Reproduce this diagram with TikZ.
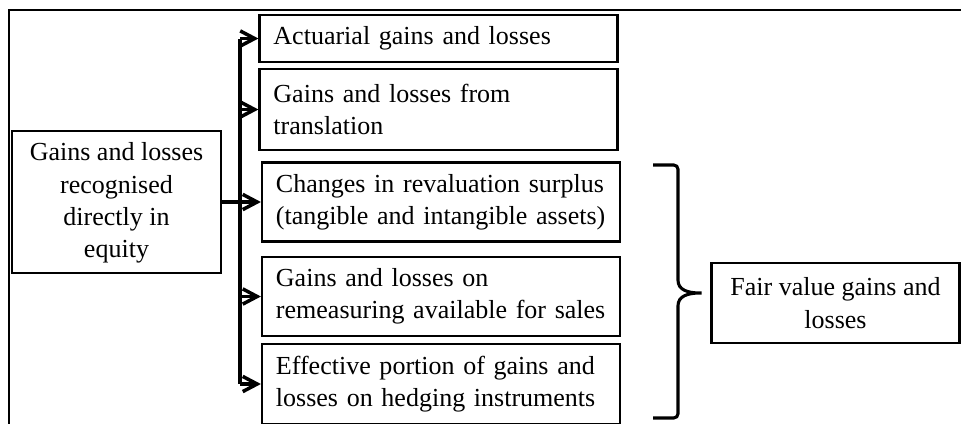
\documentclass[tikz,border=0pt]{standalone}
\usepackage{fontspec}
\setmainfont{Liberation Serif}
\usetikzlibrary{arrows.meta,positioning}

\begin{document}
\begin{tikzpicture}[
    x=0.025cm, y=-0.025cm,
    font=\fontsize{18.5}{23}\selectfont,
    itembox/.style={draw, line width=1.5pt, inner xsep=0.35cm, inner ysep=0pt, text width=8.25cm, align=left},
    sidebox/.style={draw, line width=1.5pt, inner sep=0pt, align=center},
    arrow/.style={-{Straight Barb[length=3.6mm,width=3.8mm]}, line width=2.5pt},
    brace/.style={line width=2.2pt, rounded corners=3pt}
  ]
    \useasboundingbox (0,0) rectangle (961,423);
    \draw[line width=1.8pt] (9,10) rectangle (980,440);

    \node[sidebox, minimum width=5.225cm, minimum height=3.55cm] (equity) at (116.5,202) {\rule{0pt}{0.5cm}Gains and losses\\recognised\\directly in\\equity};
    \node[itembox, minimum height=1.175cm] (actuarial) at (438.5,38.5) {Actuarial gains and losses};
    \node[itembox, minimum height=2.025cm] (translation) at (438.5,109.5) {Gains and losses from\\translation};
    \node[itembox, minimum height=1.975cm] (revaluation) at (441,202) {Changes in revaluation surplus\\(tangible and intangible assets)};
    \node[itembox, minimum height=1.975cm] (remeasuring) at (441,296.5) {Gains and losses on\\remeasuring available for sales};
    \node[itembox, minimum height=2cm] (hedging) at (441,384) {Effective portion of gains and\\losses on hedging instruments};
    \node[sidebox, minimum width=6.2cm, minimum height=2cm] (fairvalue) at (835.5,303) {Fair value gains and\\losses};

    \coordinate (trunk) at (240,0);
    \draw[line width=2.5pt] (trunk |- actuarial.west) -- (trunk |- hedging.west);
    \draw[arrow] (equity.east) -- (revaluation.west);
    \foreach \b in {actuarial,translation,remeasuring,hedging}
      \draw[arrow] (trunk |- \b.west) -- (\b.west);

    % brace round the last three boxes
    \coordinate (tip) at (704,293);
    \draw[brace] (653,165) -- (678,165) -- (678,276) .. controls (678,290) and (688,293) .. (tip)
      .. controls (688,293) and (678,296) .. (678,310) -- (678,418) -- (653,418);
  \end{tikzpicture}
\end{document}
